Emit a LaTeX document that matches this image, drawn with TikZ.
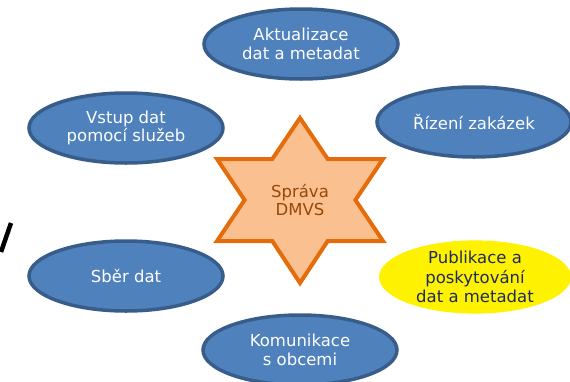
\documentclass[tikz,border=0pt]{standalone}
\usepackage{fontspec}
\setmainfont{DejaVu Sans}
\usetikzlibrary{shapes.geometric}
\definecolor{ovalfill}{HTML}{4F81BD}
\definecolor{ovalline}{HTML}{385D8A}
\definecolor{starfill}{HTML}{FAC090}
\definecolor{starline}{HTML}{E46C0A}
\definecolor{startext}{HTML}{984807}
\definecolor{publtext}{HTML}{1F2A5C}
\tikzset{
  oval/.style={ellipse, draw=ovalline, line width=3.5pt, fill=ovalfill,
    text=white, minimum width=194pt, minimum height=70pt, inner sep=0pt,
    align=center, font=\fontsize{16.5}{18.8}\selectfont},
  hilite/.style={oval, draw=none, fill=yellow, text=publtext,
    minimum width=192pt, minimum height=70pt, font=\fontsize{16.5}{19.5}\selectfont},
}
\begin{document}
\begin{tikzpicture}[x=1pt, y=-1pt]
    \clip (0,0) rectangle (570,381);
    \useasboundingbox (0,0) rectangle (570,381);
    % star in the middle
    \draw[line width=4pt, draw=starline, fill=starfill]
      (300,118) -- (327.7,159) -- (383,159) -- (355.4,200) -- (383,241)
      -- (327.7,241) -- (300,283) -- (272.3,241) -- (217,241)
      -- (244.6,200) -- (217,159) -- (272.3,159) -- cycle;
    \node[text=startext, align=center, font=\fontsize{16.5}{18.8}\selectfont] (sprava) at (300,200) {Správa\\ DMVS};
    % activities around
    \node[oval] (akt) at (301,44) {Aktualizace\\ dat a metadat};
    \node[oval] (vstup) at (126,128) {Vstup dat\\ pomocí služeb};
    \node[oval] (rizeni) at (474,122) {Řízení zakázek};
    \node[oval] (sber) at (126,276) {Sběr dat};
    \node[hilite] (publ) at (475,277) {Publikace a\\ poskytování\\ dat a metadat};
    \node[oval] (komun) at (300,350) {Komunikace\\ s obcemi};
    % cut letter at the left edge
    \draw[line width=4.5pt] (1,252) -- (11,223);
  \end{tikzpicture}
\end{document}
